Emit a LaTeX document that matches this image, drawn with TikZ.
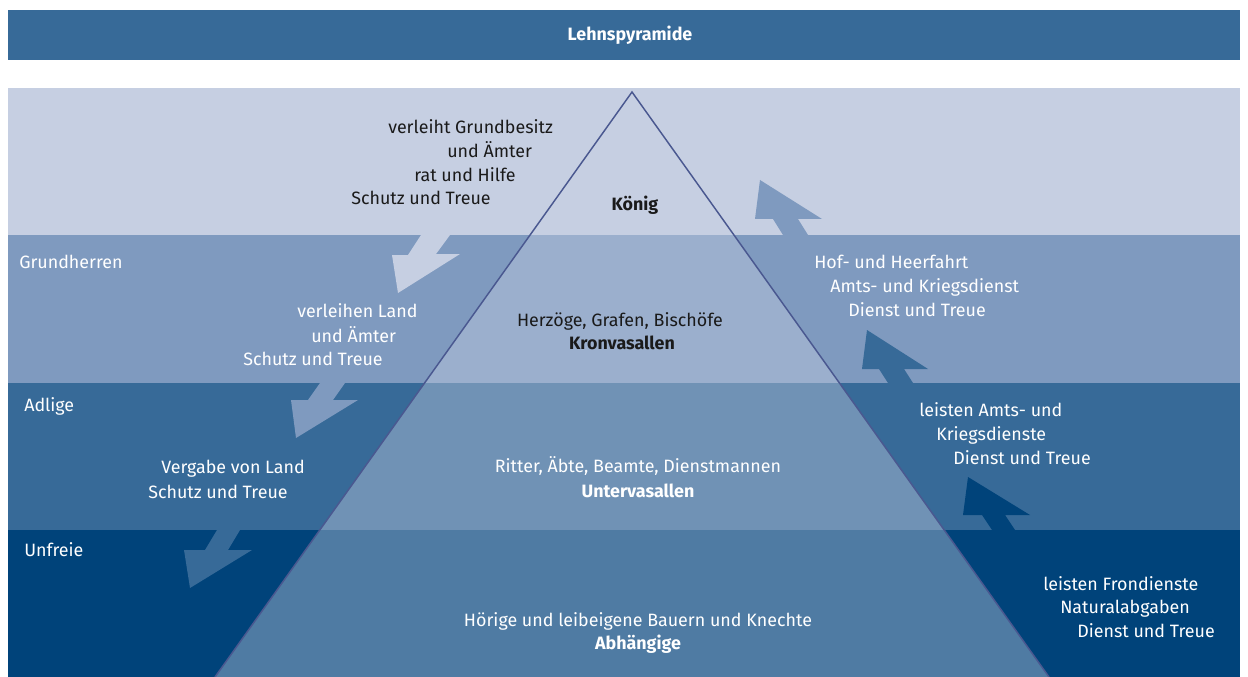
\documentclass[tikz,border=0pt]{standalone}
\usepackage{fontspec}
\setmainfont{Fira Sans}
\usepackage{tikz}
\usepackage{xcolor}
\definecolor{bandA}{HTML}{C6CFE2}
\definecolor{bandB}{HTML}{7F9ABF}
\definecolor{bandC}{HTML}{376A98}
\definecolor{bandD}{HTML}{00437A}
\definecolor{edgeP}{HTML}{4A5890}
\definecolor{inkD}{HTML}{1A1A1A}
\tikzset{
  lblc/.style={inner sep=0.75pt,text height=9.5pt,text depth=1pt,font=\fontsize{13.4}{15}\selectfont},
  lbl/.style={lblc,anchor=west},
  lblb/.style={lblc,font=\fontsize{13.4}{15}\selectfont\bfseries},
}

\begin{document}
\begin{tikzpicture}[x=0.75pt,y=0.75pt,yscale=-1,xscale=1]
\useasboundingbox (0,0) rectangle (1248,677);

%Shape: Title bar
\fill[bandC] (8,10) rectangle (1240,60);
%Shape: Bands
\fill[bandA] (8,88) rectangle (1240,235);
\fill[bandB] (8,235) rectangle (1240,383);
\fill[bandC] (8,383) rectangle (1240,530);
\fill[bandD] (8,530) rectangle (1240,677);

%Shape: Arrows down (left side)
\fill[bandA] (421,235) -- (450,235) -- (436,254) -- (460,254) -- (398,293) -- (392,255) -- (408,255) -- cycle ;
\fill[bandB] (320,383) -- (345,383) -- (333,400) -- (358,400) -- (296,438) -- (291,400) -- (308,400) -- cycle ;
\fill[bandC] (217,530) -- (240,530) -- (228,550) -- (252,550) -- (190,588) -- (184,550) -- (205,550) -- cycle ;
%Shape: Arrows up (right side)
\fill[bandB] (783,235) -- (808,235) -- (798,219) -- (822,219) -- (760,180) -- (755,219) -- (773,219) -- cycle ;
\fill[bandC] (888,383) -- (913,383) -- (904,369) -- (928,369) -- (867,330) -- (862,369) -- (879,369) -- cycle ;
\fill[bandD] (992,530) -- (1015,530) -- (1005,515) -- (1030,515) -- (968,477) -- (963,515) -- (982,515) -- cycle ;

%Shape: Pyramid
\fill[bandA,fill opacity=0.4] (632,92) -- (1049,677) -- (215,677) -- cycle ;
\draw[edgeP,line width=1.1pt,line join=miter] (215,677) -- (632,92) -- (1049,677) ;

% Text Node
\node[lblb,white] (title) at (630,35) {Lehnspyramide};

% Text Node
\node[lbl,inkD] (ka) at (387,128) {verleiht Grundbesitz};
\node[lbl,inkD] (kb) at (446,152) {und Ämter};
\node[lbl,inkD] (kc) at (413,176) {rat und Hilfe};
\node[lbl,inkD] (kd) at (350,199) {Schutz und Treue};
\node[lblb,inkD] (koenig) at (635,205) {König};

% Text Node
\node[lbl,white] (grund) at (18,263) {Grundherren};
\node[lbl,white] (va) at (296,312) {verleihen Land};
\node[lbl,white] (vb) at (310,337) {und Ämter};
\node[lbl,white] (vc) at (242,360) {Schutz und Treue};
\node[lblc,inkD] (herz) at (620,321) {Herzöge, Grafen, Bischöfe};
\node[lblb,inkD] (krone) at (622,344) {Kronvasallen};
\node[lbl,white] (ha) at (813,263) {Hof- und Heerfahrt};
\node[lbl,white] (hb) at (829,287) {Amts- und Kriegsdienst};
\node[lbl,white] (hc) at (847,311) {Dienst und Treue};

% Text Node
\node[lbl,white] (adel) at (23,406) {Adlige};
\node[lbl,white] (la) at (918,411) {leisten Amts- und};
\node[lbl,white] (lb) at (935,435) {Kriegsdienste};
\node[lbl,white] (lc) at (952,459) {Dienst und Treue};
\node[lbl,white] (ga) at (160,468) {Vergabe von Land};
\node[lbl,white] (gb) at (147,493) {Schutz und Treue};
\node[lblc,white] (ritter) at (638,467) {Ritter, Äbte, Beamte, Dienstmannen};
\node[lblb,white] (unter) at (638,492) {Untervasallen};

% Text Node
\node[lbl,white] (unfrei) at (23,551) {Unfreie};
\node[lbl,white] (fa) at (1042,585) {leisten Frondienste};
\node[lbl,white] (fb) at (1059,608) {Naturalabgaben};
\node[lbl,white] (fc) at (1076,632) {Dienst und Treue};
\node[lblc,white] (bauern) at (638,621) {Hörige und leibeigene Bauern und Knechte};
\node[lblb,white] (abh) at (638,644) {Abhängige};

\end{tikzpicture}
\end{document}
